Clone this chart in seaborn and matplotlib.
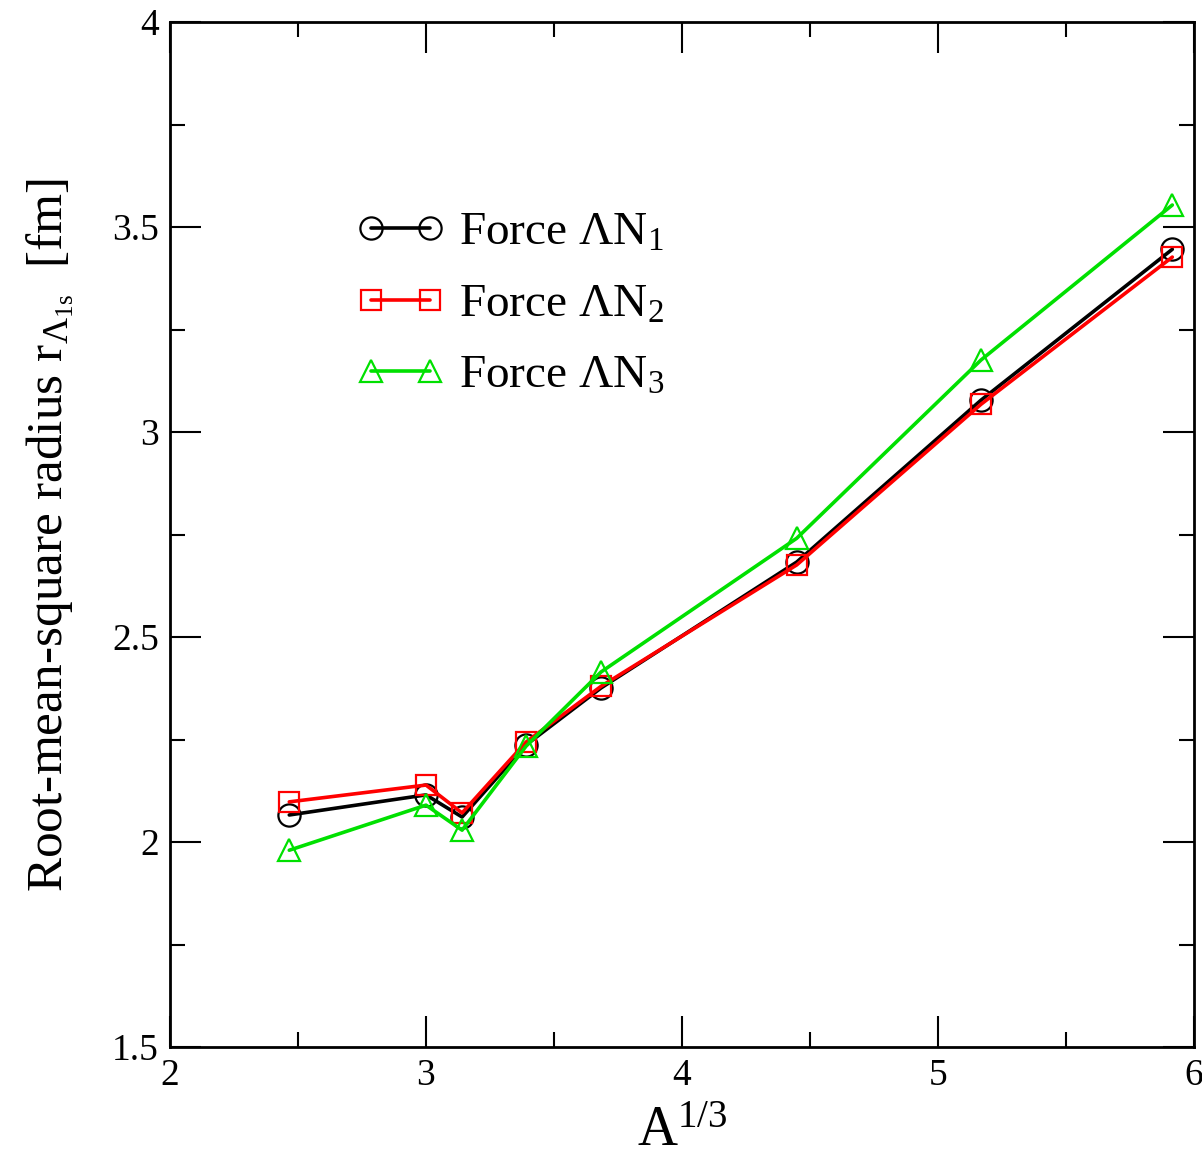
import matplotlib
matplotlib.use("Agg")
import matplotlib.pyplot as plt
import seaborn as sns
import pandas as pd
from matplotlib.ticker import MultipleLocator, FuncFormatter

# A^(1/3) values
x_vals = [2.466, 3.0, 3.141, 3.391, 3.684, 4.448, 5.168, 5.915]
force1 = [2.066, 2.115, 2.061, 2.237, 2.376, 2.683, 3.078, 3.446]
force2 = [2.098, 2.139, 2.071, 2.244, 2.380, 2.676, 3.068, 3.427]
force3 = [1.980, 2.090, 2.029, 2.234, 2.415, 2.741, 3.176, 3.554]
labels = ["Force ΛN$_1$", "Force ΛN$_2$", "Force ΛN$_3$"]

sns.set_style("ticks")
plt.rcParams['font.family'] = ['Liberation Serif', 'DejaVu Serif']
plt.rcParams['mathtext.fontset'] = 'custom'
plt.rcParams['mathtext.rm'] = 'Liberation Serif'
plt.rcParams['mathtext.it'] = 'Liberation Serif:italic'
plt.rcParams['text.color'] = 'black'
plt.rcParams['axes.labelcolor'] = 'black'
plt.rcParams['xtick.color'] = 'black'
plt.rcParams['ytick.color'] = 'black'
plt.rcParams['axes.edgecolor'] = 'black'

fig = plt.figure(figsize=(12.02, 11.68), dpi=100)
ax = fig.add_axes([0.1414, 0.1036, 0.852, 0.8774])

series = [(force1, 'black', 'o'), (force2, '#ff0000', 's'), (force3, '#00e000', '^')]
for (vals, col, mk), lab in zip(series, labels):
    df = pd.DataFrame({'x': x_vals, 'y': vals})
    sns.lineplot(data=df, x='x', y='y', ax=ax, color=col, marker=mk,
                 markersize=16 if mk != 's' else 14, markerfacecolor='none',
                 markeredgecolor=col, markeredgewidth=1.6, linewidth=2.6,
                 label=lab)

ax.set_xlim(2, 6)
ax.set_ylim(1.5, 4)
ax.xaxis.set_major_locator(MultipleLocator(1))
ax.xaxis.set_minor_locator(MultipleLocator(0.5))
ax.yaxis.set_major_locator(MultipleLocator(0.5))
ax.yaxis.set_minor_locator(MultipleLocator(0.25))
ax.xaxis.set_major_formatter(FuncFormatter(lambda v, p: f"{v:g}"))
ax.yaxis.set_major_formatter(FuncFormatter(lambda v, p: f"{v:g}"))
ax.tick_params(which='major', direction='in', length=22, width=1.5,
               top=True, right=True, labelsize=27, pad=8)
ax.tick_params(which='minor', direction='in', length=11, width=1.5,
               top=True, right=True)
for s in ax.spines.values():
    s.set_linewidth(2)
    s.set_visible(True)

ax.set_xlabel("A$^{1/3}$", fontsize=40, labelpad=10)
ax.set_ylabel(r"Root-mean-square radius r$_{\Lambda_{\mathrm{1s}}}$  [fm]", fontsize=37, labelpad=26)

leg = ax.legend(loc='upper left', bbox_to_anchor=(0.182, 0.815), frameon=False,
                fontsize=34, numpoints=2, handlelength=1.87, handletextpad=0.3,
                labelspacing=0.6, borderaxespad=0, borderpad=0)

fig.savefig("out.png", dpi=100)
